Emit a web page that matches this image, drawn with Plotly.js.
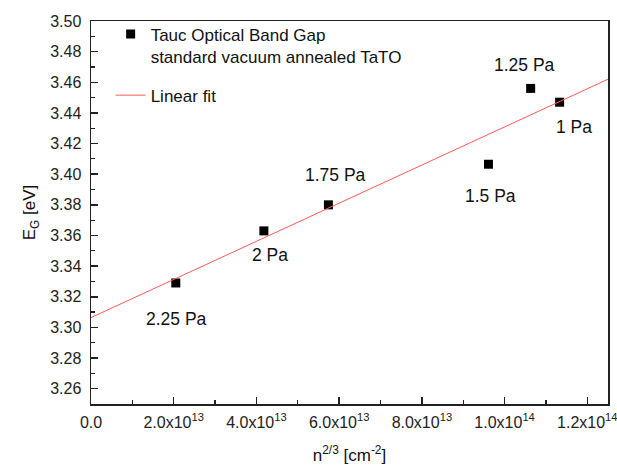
<!DOCTYPE html>
<html>
<head>
<meta charset="utf-8">
<script src="https://cdn.plot.ly/plotly-3.0.1.min.js"></script>
<style>html,body{margin:0;padding:0;background:#fff;}#chart{width:617px;height:466px;}</style>
</head>
<body>
<div id="chart"></div>
<script>
// Data
var pointLabels = ["2.25 Pa", "2 Pa", "1.75 Pa", "1.5 Pa", "1.25 Pa", "1 Pa"];
var nx = [2.05e13, 4.18e13, 5.74e13, 9.61e13, 10.63e13, 11.33e13];
var eg = [3.329, 3.363, 3.380, 3.4065, 3.456, 3.447];
var fitX = [0, 1.25e14];
var fitY = [3.3064, 3.462];
var xTickVals = [0, 2e13, 4e13, 6e13, 8e13, 1e14, 1.2e14];
var xTickText = ["0.0", "2.0x10<sup>13</sup>", "4.0x10<sup>13</sup>", "6.0x10<sup>13</sup>",
                 "8.0x10<sup>13</sup>", "1.0x10<sup>14</sup>", "1.2x10<sup>14</sup>"];
// label offsets (pixels) relative to each point
var labelDx = [1, 6, 7, 2, -6, 14];
var labelDy = [-36, -24, 30, -32, 23, -25];

var font = "Liberation Sans, Arial, sans-serif";

var traces = [
  {
    x: nx, y: eg, type: "scatter", mode: "markers",
    name: "Tauc Optical Band Gap<br>standard vacuum annealed TaTO",
    marker: {symbol: "square", size: 9, color: "#000"},
    legendgroup: "a"
  },
  {
    x: fitX, y: fitY, type: "scatter", mode: "lines",
    name: "Linear fit",
    line: {color: "#ff5a5a", width: 1},
    legendgroup: "b"
  }
];

var annotations = pointLabels.map(function (t, i) {
  return {
    x: nx[i], y: eg[i], xref: "x", yref: "y", text: t, showarrow: false,
    xshift: labelDx[i], yshift: labelDy[i],
    font: {family: font, size: 17.5, color: "#111"}
  };
});

var layout = {
  width: 617, height: 466,
  margin: {l: 91, r: 9, t: 21, b: 62},
  paper_bgcolor: "#fff", plot_bgcolor: "#fff",
  font: {family: font, size: 16, color: "#222"},
  showlegend: true,
  legend: {
    x: 0.038, y: 1.012, xanchor: "left", yanchor: "top",
    bgcolor: "rgba(0,0,0,0)", font: {family: font, size: 17, color: "#111"},
    valign: "top", traceorder: "grouped", tracegroupgap: 14
  },
  xaxis: {
    range: [0, 1.25e14], tickmode: "array", tickvals: xTickVals, ticktext: xTickText,
    ticks: "inside", ticklen: 7, tickwidth: 1.5, tickcolor: "#222",
    minor: {ticks: "inside", ticklen: 4, tickwidth: 1.2, tickcolor: "#222", dtick: 1e13, tick0: 0},
    showline: true, linecolor: "#222", linewidth: 1.5, mirror: true,
    showgrid: false, zeroline: false, ticklabeloverflow: "allow", ticklabelstandoff: 3,
    tickfont: {family: font, size: 16, color: "#222"},
    title: {text: "n<sup>2/3</sup> [cm<sup>-2</sup>]", font: {family: font, size: 17, color: "#111"}, standoff: 19}
  },
  yaxis: {
    range: [3.25, 3.50], dtick: 0.02, tick0: 0, tickformat: ".2f",
    ticks: "inside", ticklen: 7, tickwidth: 1.5, tickcolor: "#222",
    minor: {ticks: "inside", ticklen: 4, tickwidth: 1.2, tickcolor: "#222", dtick: 0.01},
    showline: true, linecolor: "#222", linewidth: 1.5, mirror: true,
    showgrid: false, zeroline: false, ticklabelstandoff: 5,
    tickfont: {family: font, size: 16, color: "#222"},
    title: {text: "E<sub>G</sub> [eV]", font: {family: font, size: 17, color: "#111"}, standoff: 10}
  },
  annotations: annotations
};

Plotly.newPlot("chart", traces, layout, {displayModeBar: false, staticPlot: true});
</script>
</body>
</html>
